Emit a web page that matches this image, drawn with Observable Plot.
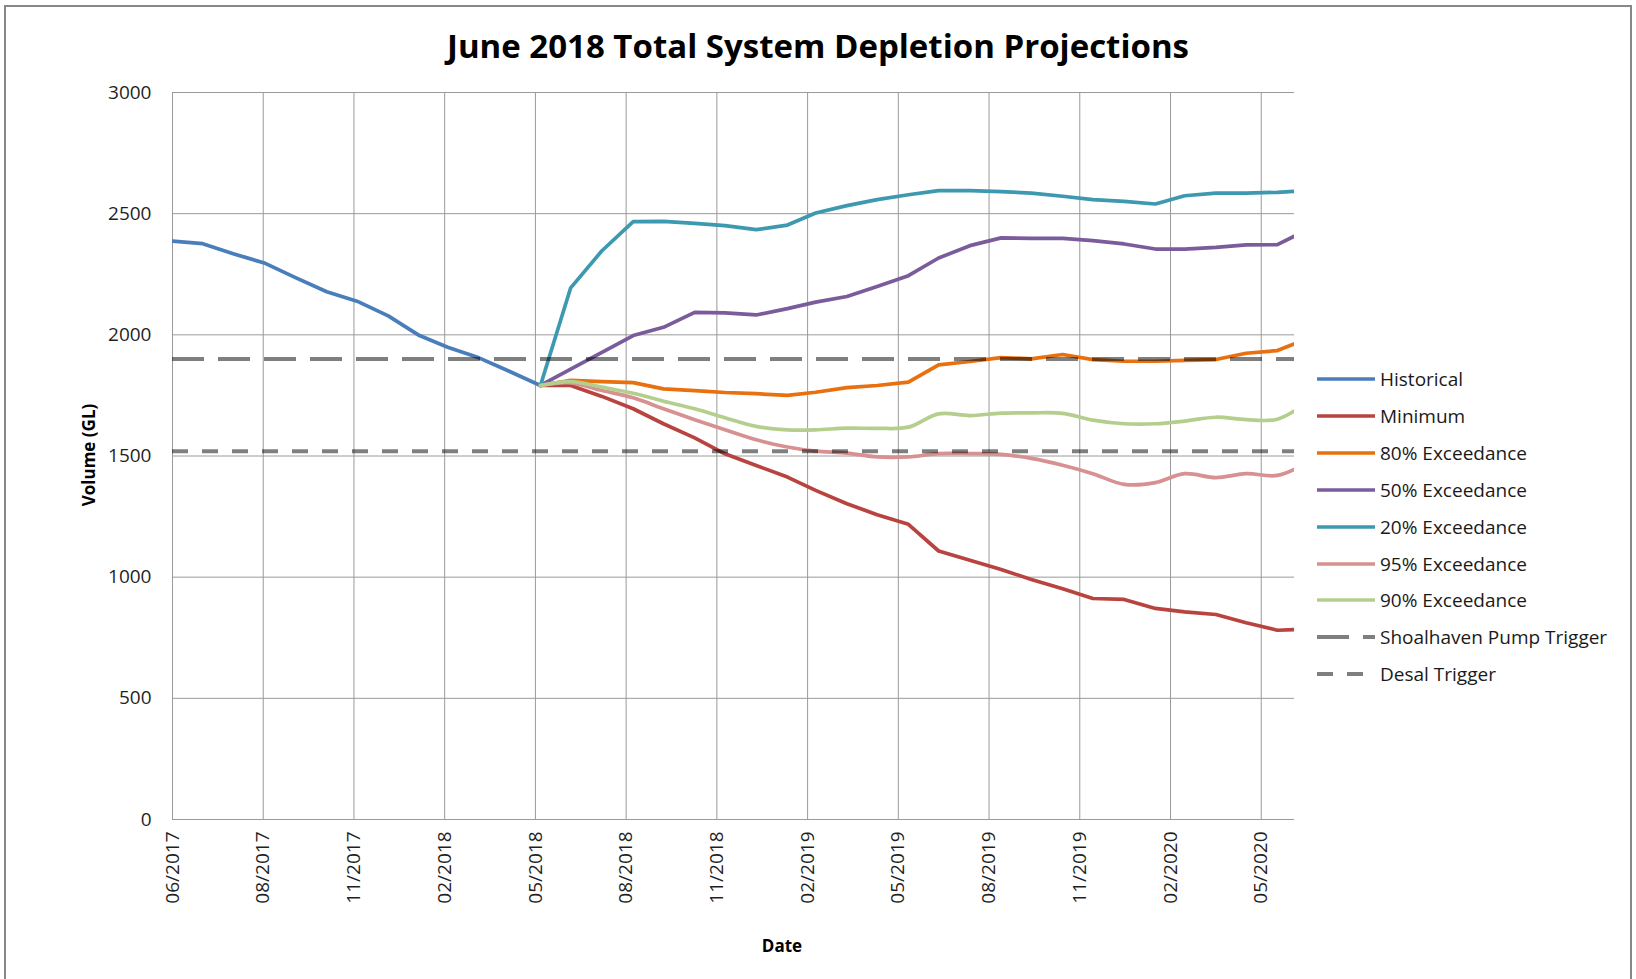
<!DOCTYPE html>
<html>
<head>
<meta charset="utf-8">
<script src="https://cdn.jsdelivr.net/npm/d3@7"></script>
<script src="https://cdn.jsdelivr.net/npm/@observablehq/plot@0.6"></script>
<style>
  html, body { margin: 0; padding: 0; background: #fff; }
  body { width: 1636px; height: 979px; overflow: hidden; position: relative; font-family: "Open Sans", sans-serif; color: #1f1f1f; }
  #frame { position: absolute; left: 4px; top: 5px; width: 1628px; height: 1010px; border: 2px solid #878787; box-sizing: border-box; }
  #title { position: absolute; left: 0; top: 22px; width: 1636px; text-align: center; font-weight: 700; font-size: 33px; line-height: 48px; color: #000; }
  #chart { position: absolute; left: 0; top: 70px; }
  #ylabel { position: absolute; left: 88px; top: 455px; transform: translate(-50%, -50%) rotate(-90deg); font-weight: 700; font-size: 17px; white-space: nowrap; color: #000; }
  #xlabel { position: absolute; left: 782px; top: 945px; transform: translate(-50%, -50%); font-weight: 700; font-size: 17px; color: #000; }
  #legend { position: absolute; left: 1317px; top: 0; }
  .lg-row { position: absolute; left: 0; height: 30px; display: flex; align-items: center; white-space: nowrap; font-size: 19px; color: #1a1a1a; }
  .lg-row svg { margin-right: 5px; }
</style>
</head>
<body>
<div id="frame"></div>
<div id="title">June 2018 Total System Depletion Projections</div>
<div id="chart"></div>
<div id="ylabel">Volume (GL)</div>
<div id="xlabel">Date</div>
<div id="legend"></div>
<script>
// ---------- data ----------
const historicalDates = ["2017-06-01","2017-07-01","2017-08-01","2017-09-01","2017-10-01","2017-11-01","2017-12-01",
  "2018-01-01","2018-02-01","2018-03-01","2018-04-01","2018-05-01","2018-06-01"];
const historical = [2387, 2376, 2334, 2295, 2236, 2178, 2139, 2078, 1997, 1949, 1905, 1850, 1791];

const projectionDates = ["2018-06-01","2018-07-01","2018-08-01","2018-09-01","2018-10-01","2018-11-01","2018-12-01",
  "2019-01-01","2019-02-01","2019-03-01","2019-04-01","2019-05-01","2019-06-01","2019-07-01","2019-08-01",
  "2019-09-01","2019-10-01","2019-11-01","2019-12-01","2020-01-01","2020-02-01","2020-03-01","2020-04-01",
  "2020-05-01","2020-06-01","2020-07-01"];
const minimum = [1791, 1791, 1746, 1695, 1633, 1575, 1509, 1461, 1413, 1358, 1303, 1258, 1218, 1108, 1070,
  1032, 990, 952, 912, 908, 871, 857, 846, 812, 781, 786];
const exc80 = [1791, 1812, 1807, 1803, 1777, 1770, 1762, 1757, 1750, 1763, 1782, 1791, 1805, 1876, 1890,
  1906, 1901, 1919, 1898, 1891, 1891, 1895, 1898, 1924, 1935, 1985];
const exc50 = [1791, 1858, 1928, 1997, 2031, 2093, 2091, 2082, 2108, 2135, 2158, 2199, 2244, 2317, 2368,
  2400, 2398, 2398, 2389, 2375, 2354, 2354, 2361, 2371, 2372, 2434];
const exc20 = [1791, 2194, 2347, 2467, 2468, 2460, 2451, 2434, 2453, 2503, 2533, 2558, 2578, 2595, 2595,
  2591, 2585, 2572, 2558, 2551, 2540, 2574, 2585, 2585, 2588, 2595];
const exc95 = [1791, 1802, 1770, 1740, 1695, 1650, 1608, 1567, 1537, 1520, 1512, 1496, 1496, 1510, 1510,
  1507, 1490, 1462, 1427, 1383, 1390, 1427, 1411, 1427, 1420, 1474];
const exc90 = [1791, 1807, 1784, 1759, 1726, 1695, 1658, 1622, 1608, 1608, 1615, 1614, 1619, 1674, 1667,
  1677, 1678, 1676, 1648, 1633, 1633, 1644, 1660, 1650, 1652, 1724];

const shoalhavenTrigger = [1900];
const desalTrigger = [1520];

const xTickDates = ["2017-06-01","2017-08-30","2017-11-28","2018-02-26","2018-05-27","2018-08-25","2018-11-23",
  "2019-02-21","2019-05-22","2019-08-20","2019-11-18","2020-02-16","2020-05-16"];
const xTickLabels = ["06/2017","08/2017","11/2017","02/2018","05/2018","08/2018","11/2018",
  "02/2019","05/2019","08/2019","11/2019","02/2020","05/2020"];
const yTicks = [0, 500, 1000, 1500, 2000, 2500, 3000];
const yTickLabels = ["0", "500", "1000", "1500", "2000", "2500", "3000"];
const xDomain = ["2017-06-01", "2020-06-18"];

// ---------- series styling ----------
const seriesNames = ["Historical","Minimum","80% Exceedance","50% Exceedance","20% Exceedance","95% Exceedance","90% Exceedance"];
const seriesValues = [historical, minimum, exc80, exc50, exc20, exc95, exc90];
const seriesColors = ["#4a7ebb","#b9433f","#e8700e","#7a5c9c","#3d99b0","#d79190","#b4cf8d"];
const seriesCurves = ["linear","linear","linear","linear","linear","catmull-rom","catmull-rom"];
const triggerNames = ["Shoalhaven Pump Trigger","Desal Trigger"];
const triggerDash = ["32,14","16,14"];

const parse = d3.utcParse("%Y-%m-%d");
const rows = seriesNames.map((name, i) => {
  const dates = i === 0 ? historicalDates : projectionDates;
  return dates.map((d, j) => ({series: name, date: parse(d), value: seriesValues[i][j]}));
});
const tickDates = xTickDates.map(parse);
const tickLabelOf = new Map(xTickDates.map((d, i) => [+parse(d), xTickLabels[i]]));
const yLabelOf = new Map(yTicks.map((v, i) => [v, yTickLabels[i]]));

const gridColor = "#9a9a9a";

const chart = Plot.plot({
  width: 1636,
  height: 909,
  marginLeft: 172,
  marginRight: 342,
  marginTop: 22,
  marginBottom: 160,
  style: {fontFamily: "Open Sans, sans-serif", fontSize: "19px", color: "#1f1f1f", background: "transparent", overflow: "visible"},
  x: {type: "utc", domain: xDomain.map(parse), ticks: tickDates, tickFormat: d => tickLabelOf.get(+d),
      tickRotate: -90, tickSize: 0, tickPadding: 12, label: null},
  y: {domain: [0, 3000], ticks: yTicks, tickFormat: v => yLabelOf.get(v), tickSize: 0, tickPadding: 21, label: null},
  marks: [
    Plot.ruleY(yTicks, {stroke: gridColor, strokeWidth: 1}),
    Plot.ruleX(tickDates, {stroke: gridColor, strokeWidth: 1}),
    ...rows.map((data, i) => Plot.line(data, {
      x: "date", y: "value", stroke: seriesColors[i], strokeWidth: 3.7,
      curve: seriesCurves[i], strokeLinejoin: "round", clip: true
    })),
    Plot.ruleY(shoalhavenTrigger, {stroke: "#000", strokeOpacity: 0.5, strokeWidth: 4, strokeDasharray: triggerDash[0]}),
    Plot.ruleY(desalTrigger, {stroke: "#000", strokeOpacity: 0.5, strokeWidth: 4, strokeDasharray: triggerDash[1]})
  ]
});
document.getElementById("chart").appendChild(chart);

// ---------- legend ----------
const legend = d3.select("#legend");
const items = seriesNames.map((n, i) => ({name: n, color: seriesColors[i], dash: null, opacity: 1}))
  .concat(triggerNames.map((n, i) => ({name: n, color: "#000", dash: triggerDash[i], opacity: 0.5})));
items.forEach((it, i) => {
  const cy = 379 + i * 36.9;
  const row = legend.append("div").attr("class", "lg-row").style("top", (cy - 15) + "px");
  const sw = row.append("svg").attr("width", 58).attr("height", 8);
  sw.append("line").attr("x1", 0).attr("x2", 58).attr("y1", 4).attr("y2", 4)
    .attr("stroke", it.color).attr("stroke-opacity", it.opacity).attr("stroke-width", it.dash ? 4 : 3.7)
    .attr("stroke-dasharray", it.dash);
  row.append("span").text(it.name);
});
</script>
</body>
</html>
